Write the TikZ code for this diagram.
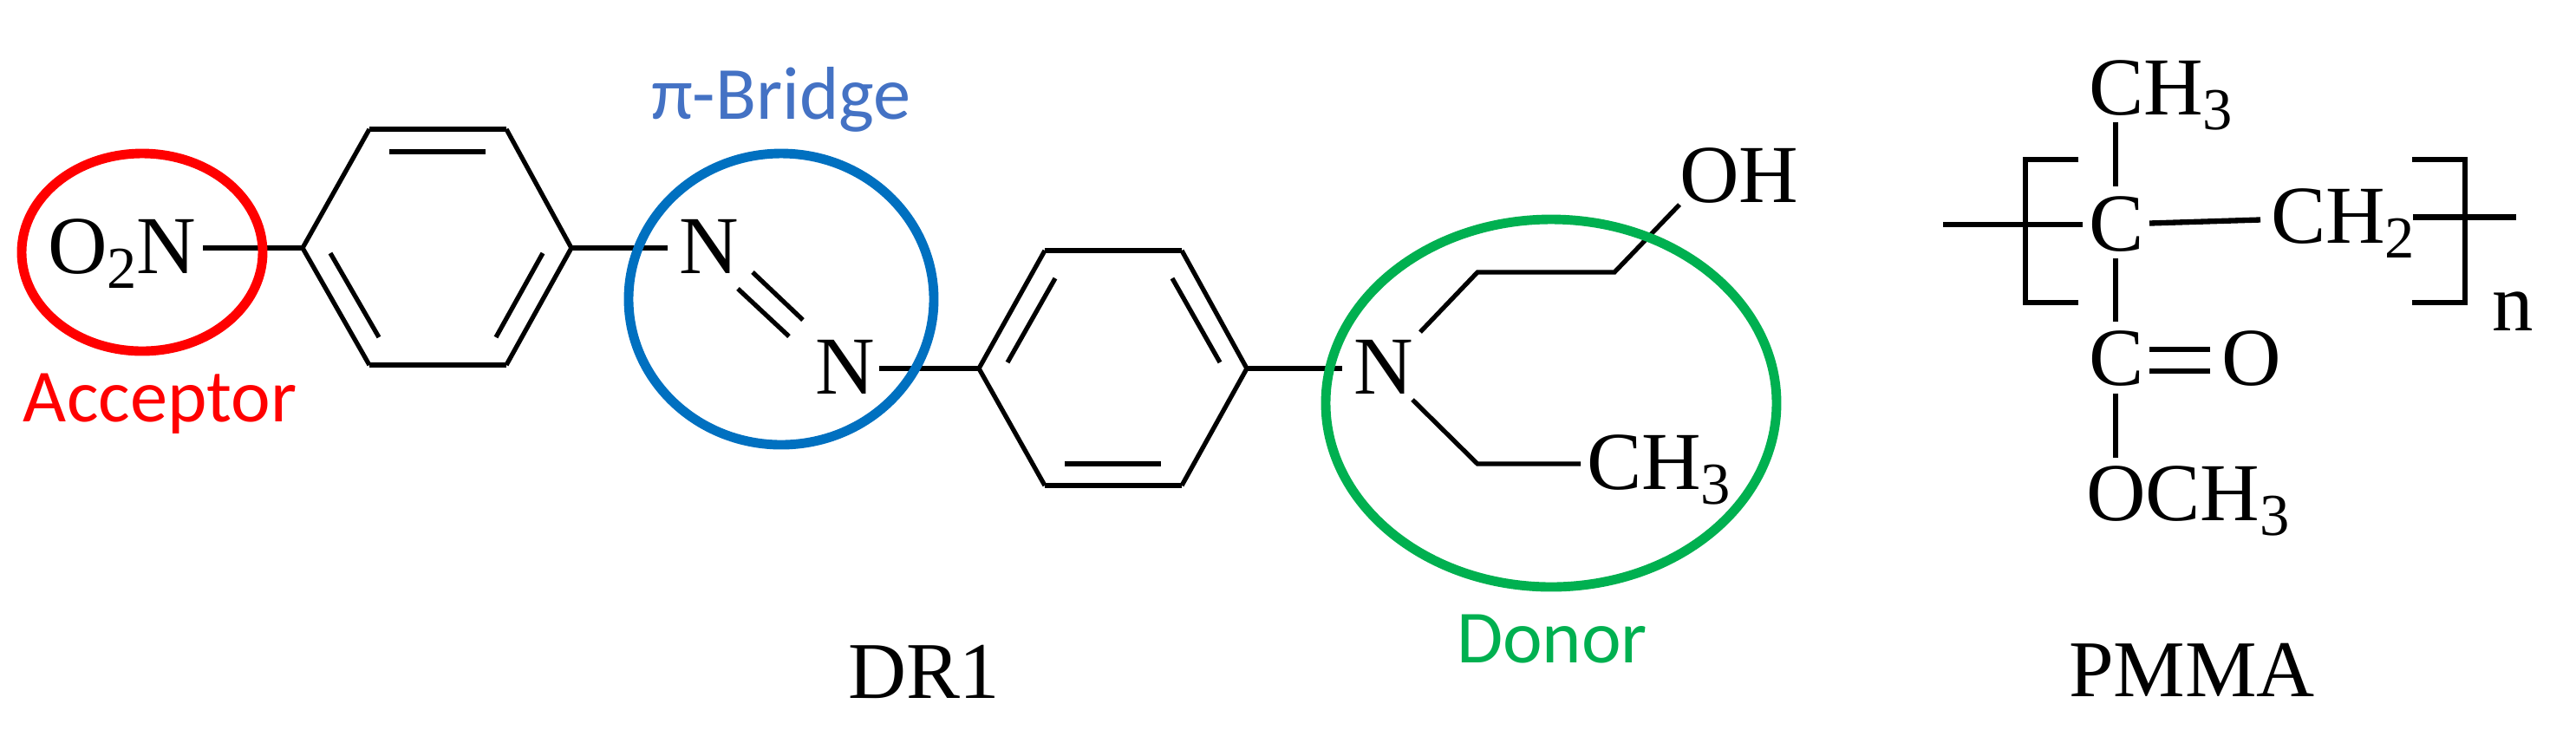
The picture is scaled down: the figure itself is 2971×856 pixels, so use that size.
\documentclass[tikz,border=0pt]{standalone}
\usepackage{fontspec}
\setmainfont{Liberation Serif}
\newfontfamily\callout{Carlito}
\newcommand{\chemsub}[1]{\raisebox{-0.17cm}{\fontsize{19.5}{19.5}\selectfont #1}}
\tikzset{
  x=0.01cm,y=-0.01cm,
  bond/.style={draw=black,line width=1.5pt,line cap=butt,line join=miter},
  thick bond/.style={bond,line width=1.8pt},
  chem/.style={inner sep=0pt,outer sep=0pt,anchor=base west,font=\fontsize{27}{27}\selectfont,text=black},
  caption/.style={chem,font=\fontsize{26.4}{26.4}\selectfont},
  tag/.style={inner sep=0pt,outer sep=0pt,anchor=base west,font=\callout\fontsize{24.6}{24.6}\selectfont},
  halo/.style={draw=#1,line width=3.1pt,fill=none},
}
\definecolor{acceptorred}{HTML}{FF0000}
\definecolor{bridgeblue}{HTML}{0070C0}
\definecolor{bridgetext}{HTML}{4472C4}
\definecolor{donorgreen}{HTML}{00B050}
\begin{document}
\begin{tikzpicture}
\useasboundingbox (0,0) rectangle (2971,856);
% ---- named vertices of DR1
\coordinate (a1) at (349,286);
\coordinate (a2) at (426,149);
\coordinate (a3) at (584,149);
\coordinate (a4) at (659,286);
\coordinate (a5) at (584,421);
\coordinate (a6) at (426,421);
\coordinate (b1) at (1129,425);
\coordinate (b2) at (1205,289);
\coordinate (b3) at (1363,289);
\coordinate (b4) at (1438,425);
\coordinate (b5) at (1363,560);
\coordinate (b6) at (1205,560);
% ---- labels
\node[chem] (o2n) at (55,315) {O\chemsub{2}N};
\node[chem] (n1) at (783,315) {N};
\node[chem] (n2) at (940,454) {N};
\node[chem] (n3) at (1561,454) {N};
\node[chem] (oh) at (1937,233) {OH};
\node[chem] (ch3a) at (1830,564) {CH\chemsub{3}};
\node[chem] (ch3b) at (2409,132) {CH\chemsub{3}};
\node[chem] (c1) at (2409,289) {C};
\node[chem] (ch2) at (2619,280) {CH\chemsub{2}};
\node[chem] (c2) at (2409,444) {C};
\node[chem] (o1) at (2562,444) {O};
\node[chem] (och3) at (2406,600) {OCH\chemsub{3}};
\node[chem] (nn) at (2874,381) {n};
\node[caption] (dr1) at (978,805) {DR1};
\node[caption] (pmma) at (2386,803) {PMMA};
\node[tag,text=acceptorred] (acc) at (27,486) {Acceptor};
\node[tag,text=bridgetext] (pib) at (751,137) {π-Bridge};
\node[tag,text=donorgreen] (don) at (1680,764) {Donor};
% ---- rings
\draw[bond] (a1) -- (a2) (a3) -- (a4) -- (a5) (a6) -- (a1);
\draw[thick bond] (a2) -- (a3) (a5) -- (a6);
\draw[bond] (b1) -- (b2) (b3) -- (b4) -- (b5) (b6) -- (b1);
\draw[thick bond] (b2) -- (b3) (b5) -- (b6);
\coordinate (ai1) at (449,175); \coordinate (ai2) at (560,175);
\coordinate (ai3) at (381,292); \coordinate (ai4) at (437,389);
\coordinate (ai5) at (626,292); \coordinate (ai6) at (572,389);
\draw[thick bond] (ai1) -- (ai2);
\draw[bond] (ai3) -- (ai4) (ai5) -- (ai6);
\coordinate (bi1) at (1228,535); \coordinate (bi2) at (1339,535);
\coordinate (bi3) at (1217,321); \coordinate (bi4) at (1162,418);
\coordinate (bi5) at (1352,321); \coordinate (bi6) at (1407,418);
\draw[thick bond] (bi1) -- (bi2);
\draw[bond] (bi3) -- (bi4) (bi5) -- (bi6);
% ---- DR1 connectors
\coordinate (e1) at (234,286);
\coordinate (e2) at (770,286);
\coordinate (e3) at (1014,425);
\coordinate (e4) at (1548,425);
\draw[thick bond] (e1) -- (a1);
\draw[thick bond] (a4) -- (e2);
\draw[thick bond] (e3) -- (b1);
\draw[thick bond] (b4) -- (e4);
\coordinate (d1) at (868,314); \coordinate (d2) at (926,369);
\coordinate (d3) at (851,333); \coordinate (d4) at (910,388);
\draw[bond] (d1) -- (d2) (d3) -- (d4);
\coordinate (u1) at (1638,383); \coordinate (u2) at (1704,314);
\coordinate (u3) at (1862,314); \coordinate (u4) at (1937,236);
\draw[bond] (u1) -- (u2) -- (u3) -- (u4);
\coordinate (l1) at (1629,461); \coordinate (l2) at (1704,535);
\coordinate (l3) at (1823,535);
\draw[bond] (l1) -- (l2) -- (l3);
% ---- PMMA connectors
\coordinate (p1) at (2440,141); \coordinate (p2) at (2440,215);
\coordinate (p3) at (2440,298); \coordinate (p4) at (2440,371);
\coordinate (p5) at (2440,454); \coordinate (p6) at (2440,528);
\draw[bond] (p1) -- (p2) (p3) -- (p4) (p5) -- (p6);
\coordinate (h1) at (2241,259); \coordinate (h2) at (2402,259);
\draw[thick bond] (h1) -- (h2);
\coordinate (h3) at (2479,257.5); \coordinate (h4) at (2607,253.5);
\draw[thick bond] (h3) -- (h4);
\coordinate (h5) at (2783,250.5); \coordinate (h6) at (2902,250.5);
\draw[thick bond] (h5) -- (h6);
\coordinate (q1) at (2479,403); \coordinate (q2) at (2549,403);
\coordinate (q3) at (2479,428); \coordinate (q4) at (2549,428);
\draw[thick bond] (q1) -- (q2) (q3) -- (q4);
\coordinate (bl1) at (2397,184); \coordinate (bl2) at (2336,184);
\coordinate (bl3) at (2336,349); \coordinate (bl4) at (2397,349);
\draw[thick bond] (bl1) -- (bl2) -- (bl3) -- (bl4);
\coordinate (br1) at (2782,184); \coordinate (br2) at (2843,184);
\coordinate (br3) at (2843,349); \coordinate (br4) at (2782,349);
\draw[thick bond] (br1) -- (br2) -- (br3) -- (br4);
% ---- highlight ellipses
\draw[halo=acceptorred] (164,291) ellipse [x radius=139,y radius=114];
\draw[halo=bridgeblue] (901,345) ellipse [x radius=176,y radius=168];
\draw[halo=donorgreen] (1789,465) ellipse [x radius=260,y radius=212];
\end{tikzpicture}
\end{document}
